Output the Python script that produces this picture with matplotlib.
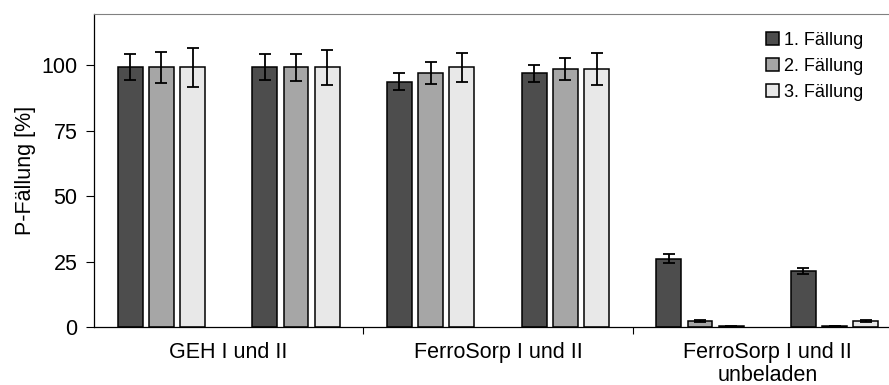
import matplotlib
matplotlib.use('Agg')
import matplotlib.pyplot as plt
import numpy as np

plt.rcParams['font.family'] = ['Liberation Sans', 'DejaVu Sans']

# Daten
groups = ['GEH I und II', 'FerroSorp I und II', 'FerroSorp I und II\nunbeladen']
series = ['1. Fällung', '2. Fällung', '3. Fällung']
# 6 Kategorien: GEH I, GEH II, FS I, FS II, FS I unbel., FS II unbel.
f1 = [99.3, 99.3, 93.6, 96.8, 26.1, 21.4]
f2 = [99.1, 99.1, 96.8, 98.6, 2.3, 0.3]
f3 = [99.1, 99.1, 99.1, 98.6, 0.2, 2.3]
e1 = [5.0, 5.0, 3.2, 3.2, 1.6, 1.1]
e2 = [6.0, 5.0, 4.2, 4.2, 0.4, 0.1]
e3 = [7.5, 6.7, 5.4, 6.2, 0.1, 0.4]

colors = ['#4d4d4d', '#a6a6a6', '#e8e8e8']

fig = plt.figure(figsize=(8.89, 3.85), dpi=100)
ax = fig.add_axes([94/889, 58/385, 808/889, 313/385])

x = np.arange(6)
step = 0.232
width = 0.185
for k, (vals, errs) in enumerate(zip([f1, f2, f3], [e1, e2, e3])):
    ax.bar(x + (k - 1) * step, vals, width, color=colors[k], edgecolor='black',
           linewidth=1.1, label=series[k],
           yerr=errs, error_kw=dict(ecolor='black', elinewidth=1.3, capsize=4, capthick=1.3))

ax.set_xlim(-0.5, 5.5)
ax.set_ylim(0, 119.5)
ax.set_yticks([0, 25, 50, 75, 100])
ax.tick_params(axis='y', labelsize=15.5, direction='out', length=6, width=0.8, pad=6)

# Kategorieachse: Striche zwischen den Kategorien, Gruppenbeschriftung mittig
ax.set_xticks([0.5, 1.5, 2.5, 3.5, 4.5], minor=True)
ax.tick_params(axis='x', which='minor', direction='out', length=5, width=0.8)
ax.set_xticks([0.5, 2.5, 4.5])
ax.set_xticklabels(groups, fontsize=15.5, linespacing=1.12)
ax.tick_params(axis='x', which='major', length=0, pad=11)

ax.set_ylabel('P-Fällung [%]', fontsize=15.5, labelpad=4)

ax.spines['right'].set_visible(False)
ax.spines['top'].set_color('#808080')
ax.spines['left'].set_linewidth(0.9)
ax.spines['bottom'].set_linewidth(0.9)

leg = ax.legend(loc='upper left', bbox_to_anchor=(766/889, 1 - 32/385),
                bbox_transform=fig.transFigure, frameon=False, fontsize=13,
                handlelength=0.72, handleheight=0.72, handletextpad=0.25,
                labelspacing=0.5, borderpad=0, borderaxespad=0)

fig.savefig('out.png', dpi=100)
